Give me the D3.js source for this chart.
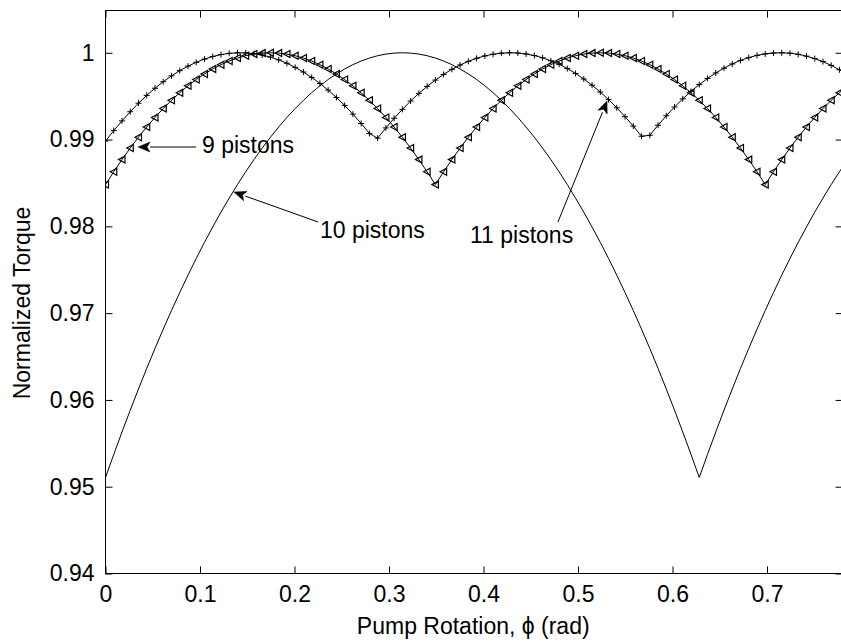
<!DOCTYPE html>
<html>
<head>
<meta charset="utf-8">
<script src="https://cdn.jsdelivr.net/npm/d3@7"></script>
<style>
  html, body { margin: 0; padding: 0; background: #fff; }
  svg { display: block; }
  text { font-family: "Liberation Sans", Arial, Helvetica, sans-serif; fill: #000; }
</style>
</head>
<body>
<svg id="chart" width="841" height="643"></svg>
<script>
// Pump rotation angle (rad), sampled every 0.5 degree
const phi = [0,0.00873,0.01745,0.02618,0.03491,0.04363,0.05236,0.06109,0.06981,0.07854,
0.08727,0.09599,0.10472,0.11345,0.12217,0.13090,0.13963,0.14835,0.15708,0.16581,
0.17453,0.18326,0.19199,0.20071,0.20944,0.21817,0.22689,0.23562,0.24435,0.25307,
0.26180,0.27053,0.27925,0.28798,0.29671,0.30543,0.31416,0.32289,0.33161,0.34034,
0.34907,0.35779,0.36652,0.37525,0.38397,0.39270,0.40143,0.41015,0.41888,0.42761,
0.43633,0.44506,0.45379,0.46251,0.47124,0.47997,0.48869,0.49742,0.50615,0.51487,
0.52360,0.53233,0.54105,0.54978,0.55851,0.56723,0.57596,0.58469,0.59341,0.60214,
0.61087,0.61959,0.62832,0.63705,0.64577,0.65450,0.66323,0.67195,0.68068,0.68941,
0.69813,0.70686,0.71558,0.72431,0.73304,0.74176,0.75049,0.75922,0.76794,0.77667,0.78540];

// Normalized torque, 9 pistons (triangle markers)
const torque9 = [0.98481,0.98629,0.98769,0.98902,0.99027,0.99144,0.99255,0.99357,0.99452,0.99540,
0.99619,0.99692,0.99756,0.99813,0.99863,0.99905,0.99939,0.99966,0.99985,0.99996,1.00000,
0.99996,0.99985,0.99966,0.99939,0.99905,0.99863,0.99813,0.99756,0.99692,0.99619,
0.99540,0.99452,0.99357,0.99255,0.99144,0.99027,0.98902,0.98769,0.98629,0.98481,
0.98629,0.98769,0.98902,0.99027,0.99144,0.99255,0.99357,0.99452,0.99540,0.99619,
0.99692,0.99756,0.99813,0.99863,0.99905,0.99939,0.99966,0.99985,0.99996,1.00000,
0.99996,0.99985,0.99966,0.99939,0.99905,0.99863,0.99813,0.99756,0.99692,0.99619,
0.99540,0.99452,0.99357,0.99255,0.99144,0.99027,0.98902,0.98769,0.98629,0.98481,
0.98629,0.98769,0.98902,0.99027,0.99144,0.99255,0.99357,0.99452,0.99540,0.99619];

// Normalized torque, 10 pistons (plain line)
const torque10 = [0.95106,0.95372,0.95630,0.95882,0.96126,0.96363,0.96593,0.96815,0.97030,0.97237,
0.97437,0.97630,0.97815,0.97992,0.98163,0.98325,0.98481,0.98629,0.98769,0.98902,
0.99027,0.99144,0.99255,0.99357,0.99452,0.99540,0.99619,0.99692,0.99756,0.99813,
0.99863,0.99905,0.99939,0.99966,0.99985,0.99996,1.00000,
0.99996,0.99985,0.99966,0.99939,0.99905,0.99863,0.99813,0.99756,0.99692,0.99619,
0.99540,0.99452,0.99357,0.99255,0.99144,0.99027,0.98902,0.98769,0.98629,0.98481,
0.98325,0.98163,0.97992,0.97815,0.97630,0.97437,0.97237,0.97030,0.96815,0.96593,
0.96363,0.96126,0.95882,0.95630,0.95372,0.95106,
0.95372,0.95630,0.95882,0.96126,0.96363,0.96593,0.96815,0.97030,0.97237,0.97437,
0.97630,0.97815,0.97992,0.98163,0.98325,0.98481,0.98629,0.98769];

// Normalized torque, 11 pistons (plus markers)
const torque11 = [0.98982,0.99103,0.99215,0.99321,0.99419,0.99509,0.99591,0.99666,0.99734,0.99794,
0.99846,0.99890,0.99927,0.99957,0.99979,0.99993,1.00000,0.99998,0.99990,0.99974,
0.99950,0.99918,0.99879,0.99832,0.99778,0.99716,0.99647,0.99570,0.99485,0.99393,
0.99293,0.99185,0.99070,0.99016,0.99134,0.99245,0.99348,0.99444,0.99532,0.99613,
0.99685,0.99751,0.99809,0.99859,0.99901,0.99936,0.99964,0.99983,0.99995,1.00000,
0.99997,0.99986,0.99968,0.99942,0.99908,0.99867,0.99818,0.99762,0.99698,0.99626,
0.99547,0.99460,0.99366,0.99264,0.99155,0.99038,0.99049,0.99165,0.99274,0.99375,
0.99469,0.99555,0.99633,0.99704,0.99767,0.99823,0.99871,0.99912,0.99944,0.99970,
0.99987,0.99997,1.00000,0.99995,0.99982,0.99961,0.99933,0.99898,0.99854,0.99804,0.99745];

const xTicks = [0, 0.1, 0.2, 0.3, 0.4, 0.5, 0.6, 0.7];
const xTickLabels = ["0", "0.1", "0.2", "0.3", "0.4", "0.5", "0.6", "0.7"];
const yTicks = [0.94, 0.95, 0.96, 0.97, 0.98, 0.99, 1];
const yTickLabels = ["0.94", "0.95", "0.96", "0.97", "0.98", "0.99", "1"];
const xLimits = [0, 0.78];
const yLimits = [0.94, 1.00487];

// annotation arrows: text, tail (x,y), tip (x,y), text anchor point (x,y) in data units
const annLabels = ["9 pistons", "10 pistons", "11 pistons"];
const annTail = [[0.0958, 0.98914], [0.2250, 0.98050], [0.4788, 0.98050]];
const annTip  = [[0.0344, 0.98914], [0.1360, 0.98395], [0.5307, 0.99444]];
const annText = [[0.1021, 0.98844], [0.2270, 0.97865], [0.3857, 0.97808]];

const xLabel = "Pump Rotation, \u03D5 (rad)";
const yLabel = "Normalized Torque";

// ---------- layout ----------
const svg = d3.select("#chart");
const pLeft = 105.5, pRight = 842.6, pTop = 10.5, pBottom = 573.5;
const fontSize = 23;
const tickLen = 7;

const x = d3.scaleLinear().domain(xLimits).range([pLeft, pRight]);
const y = d3.scaleLinear().domain(yLimits).range([pBottom, pTop]);

svg.append("rect").attr("width", 841).attr("height", 643).attr("fill", "#fff");

svg.append("defs").append("clipPath").attr("id", "plotclip")
  .append("rect").attr("x", pLeft).attr("y", pTop).attr("width", pRight - pLeft).attr("height", pBottom - pTop);

// axes with inward ticks on all four sides (box on)
const axB = d3.axisBottom(x).tickValues(xTicks).tickSize(-tickLen).tickFormat((d, i) => xTickLabels[i]).tickPadding(12);
const axT = d3.axisTop(x).tickValues(xTicks).tickSize(-tickLen).tickFormat("");
const axL = d3.axisLeft(y).tickValues(yTicks).tickSize(-tickLen).tickFormat((d, i) => yTickLabels[i]).tickPadding(11);
const axR = d3.axisRight(y).tickValues(yTicks).tickSize(-tickLen).tickFormat("");

function styleAxis(g) {
  g.select(".domain").remove();
  g.selectAll(".tick line").attr("stroke", "#000").attr("stroke-width", 1);
  g.selectAll(".tick text").attr("font-size", fontSize).attr("fill", "#000")
    .attr("font-family", '"Liberation Sans", Arial, sans-serif');
}
svg.append("g").attr("transform", `translate(0,${pBottom})`).call(axB).call(styleAxis);
svg.append("g").attr("transform", `translate(0,${pTop})`).call(axT).call(styleAxis);
svg.append("g").attr("transform", `translate(${pLeft},0)`).call(axL).call(styleAxis);
svg.append("g").attr("transform", `translate(${pRight},0)`).call(axR).call(styleAxis);

// frame
svg.append("rect").attr("x", pLeft).attr("y", pTop).attr("width", pRight - pLeft).attr("height", pBottom - pTop)
  .attr("fill", "none").attr("stroke", "#000").attr("stroke-width", 1);

// data
const plot = svg.append("g").attr("clip-path", "url(#plotclip)");
const line = d3.line().x(d => x(d[0])).y(d => y(d[1]));
const s9 = phi.map((p, i) => [p, torque9[i]]);
const s10 = phi.map((p, i) => [p, torque10[i]]);
const s11 = phi.map((p, i) => [p, torque11[i]]);

[s10, s9, s11].forEach(s => {
  plot.append("path").datum(s).attr("d", line)
    .attr("fill", "none").attr("stroke", "#000").attr("stroke-width", 1);
});

// triangle-left markers for 9 pistons
plot.append("g").selectAll("path").data(s9).join("path")
  .attr("transform", d => `translate(${x(d[0])},${y(d[1])})`)
  .attr("d", "M-3.5,0 L3,-3.5 L3,3.5 Z")
  .attr("fill", "none").attr("stroke", "#000").attr("stroke-width", 1.2);

// plus markers for 11 pistons
plot.append("g").selectAll("path").data(s11).join("path")
  .attr("transform", d => `translate(${x(d[0])},${y(d[1])})`)
  .attr("d", "M-3,0 H3 M0,-3 V3")
  .attr("fill", "none").attr("stroke", "#000").attr("stroke-width", 1);

// annotations
const headL = 12, headW = 5;
annLabels.forEach((lab, i) => {
  const x1 = x(annTail[i][0]), y1 = y(annTail[i][1]);
  const x2 = x(annTip[i][0]), y2 = y(annTip[i][1]);
  const ang = Math.atan2(y2 - y1, x2 - x1);
  const bx = x2 - headL * Math.cos(ang), by = y2 - headL * Math.sin(ang);
  svg.append("line").attr("x1", x1).attr("y1", y1).attr("x2", bx).attr("y2", by)
    .attr("stroke", "#000").attr("stroke-width", 1);
  const g = svg.append("g").attr("transform", `translate(${x2},${y2}) rotate(${ang * 180 / Math.PI})`);
  g.append("path").attr("d", `M0,0 L${-headL},${-headW} L${-headL * 0.75},0 L${-headL},${headW} Z`)
    .attr("fill", "#000").attr("stroke", "#000").attr("stroke-width", 0.5);
  svg.append("text").attr("x", x(annText[i][0])).attr("y", y(annText[i][1]))
    .attr("font-size", fontSize).text(lab);
});

// axis labels
svg.append("text").attr("x", (pLeft + 841) / 2).attr("y", 634)
  .attr("text-anchor", "middle").attr("font-size", fontSize).text(xLabel);
svg.append("text").attr("transform", "translate(30,303) rotate(-90)")
  .attr("text-anchor", "middle").attr("font-size", fontSize).text(yLabel);
</script>
</body>
</html>
